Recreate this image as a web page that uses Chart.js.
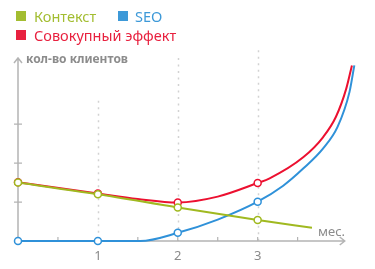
<!DOCTYPE html>
<html>
<head>
<meta charset="utf-8">
<script src="https://cdn.jsdelivr.net/npm/chart.js@4.4.1/dist/chart.umd.min.js"></script>
<style>
    body { margin: 0; background: #fff; font-family: "Noto Sans", sans-serif; }
    #wrap { position: relative; width: 375px; height: 269px; }
    canvas { position: absolute; left: 0; top: 0; }
    .sq { position: absolute; width: 10px; height: 10px; }
    .txt { position: absolute; white-space: nowrap; font-size: 14.5px; line-height: 20px; }
    .axis-title { position: absolute; white-space: nowrap; color: #8c8c8c; font-size: 12px; line-height: 14px; }
</style>
</head>
<body>
<div id="wrap">
    <canvas id="chart" width="375" height="269"></canvas>
    <div class="sq" style="left:16px;top:11px;background:#a3bd31"></div>
    <div class="txt" style="left:34px;top:6px;color:#a3bd31">Контекст</div>
    <div class="sq" style="left:118px;top:11px;background:#3d99d8"></div>
    <div class="txt" style="left:135px;top:6px;color:#3d99d8">SEO</div>
    <div class="sq" style="left:16px;top:30px;background:#e8213f"></div>
    <div class="txt" style="left:34px;top:25px;color:#e8213f">Совокупный эффект</div>
    <div class="axis-title" style="left:26px;top:52px;font-weight:bold">кол-во клиентов</div>
    <div class="axis-title" style="left:318px;top:224px;font-size:13px">мес.</div>
</div>
<script>
// значения (месяцы / условные единицы клиентов)
const xTicks = [1, 2, 3];
const yTicks = [1, 2, 3];
const markerX = [0, 1, 2, 3];
const gridTop = [3.6, 4.7, 4.9];

const kontekstX = [0, 1, 2, 3, 3.68];
const kontekstY = [1.5, 1.2, 0.86, 0.54, 0.34];

const seoX = [0, 1, 1.53, 2, 2.5, 3, 3.32, 3.57, 3.82, 4.0, 4.15, 4.21];
const seoY = [0, 0, 0, 0.21, 0.55, 1.01, 1.42, 1.86, 2.38, 2.93, 3.83, 4.51];

const totalX = [0, 1, 1.5, 2, 2.5, 3, 3.15, 3.57, 3.82, 3.98, 4.11, 4.18];
const totalY = [1.51, 1.22, 1.08, 0.99, 1.14, 1.49, 1.61, 2.15, 2.67, 3.19, 3.92, 4.51];

function toPoints(xs, ys) {
    return xs.map((x, i) => ({ x: x, y: ys[i] }));
}

function makeDataset(label, xs, ys, color) {
    return {
        label: label,
        data: toPoints(xs, ys),
        borderColor: color,
        borderWidth: 2,
        backgroundColor: '#fff',
        pointBackgroundColor: '#fff',
        pointBorderColor: color,
        pointBorderWidth: 1.5,
        pointRadius: (c) => markerX.includes(c.raw.x) ? 3.5 : 0,
        cubicInterpolationMode: 'monotone',
        clip: false
    };
}

// оси со стрелками, пунктирные линии и подписи месяцев
const axesPlugin = {
    id: 'axesPlugin',
    beforeDatasetsDraw(chart) {
        const ctx = chart.ctx;
        const xs = chart.scales.x;
        const ys = chart.scales.y;
        const x0 = xs.getPixelForValue(0);
        const y0 = ys.getPixelForValue(0);

        ctx.save();
        // пунктир
        ctx.strokeStyle = '#d2d2d2';
        ctx.lineWidth = 1.5;
        ctx.setLineDash([2, 4.5]);
        xTicks.forEach((v, i) => {
            const px = Math.round(xs.getPixelForValue(v)) + 0.5;
            ctx.beginPath();
            ctx.moveTo(px, ys.getPixelForValue(gridTop[i]));
            ctx.lineTo(px, y0);
            ctx.stroke();
        });
        ctx.setLineDash([]);

        ctx.strokeStyle = '#b4b4b4';
        ctx.lineWidth = 1.5;
        const yTop = ys.getPixelForValue(4.7);
        const xEnd = xs.getPixelForValue(4.09);
        ctx.beginPath();
        ctx.moveTo(x0, y0);
        ctx.lineTo(x0, yTop);
        ctx.moveTo(x0 - 4, yTop + 5);
        ctx.lineTo(x0, yTop);
        ctx.lineTo(x0 + 4, yTop + 5);
        ctx.moveTo(x0, y0);
        ctx.lineTo(xEnd, y0);
        ctx.moveTo(xEnd - 5, y0 - 4);
        ctx.lineTo(xEnd, y0);
        ctx.lineTo(xEnd - 5, y0 + 4);
        ctx.stroke();

        ctx.lineWidth = 1.2;
        ctx.beginPath();
        yTicks.forEach(v => {
            const py = ys.getPixelForValue(v);
            ctx.moveTo(x0 - 4, py);
            ctx.lineTo(x0 + 4, py);
        });
        [0.5, 1, 1.5, 2, 2.5, 3, 3.5].forEach(v => {
            const px = xs.getPixelForValue(v);
            ctx.moveTo(px, y0);
            ctx.lineTo(px, y0 - 4);
        });
        ctx.stroke();

        ctx.fillStyle = '#8a8a8a';
        ctx.font = '13px "Noto Sans"';
        ctx.textAlign = 'center';
        ctx.textBaseline = 'middle';
        xTicks.forEach(v => {
            ctx.fillText(String(v), xs.getPixelForValue(v), y0 + 15);
        });
        ctx.restore();
    }
};

new Chart(document.getElementById('chart'), {
    type: 'line',
    data: {
        datasets: [
            makeDataset('Контекст', kontekstX, kontekstY, '#a0b920'),
            makeDataset('SEO', seoX, seoY, '#2f91d9'),
            makeDataset('Совокупный эффект', totalX, totalY, '#ec1030')
        ]
    },
    options: {
        responsive: false,
        animation: false,
        layout: { padding: { left: 18, right: 5, top: 58, bottom: 28 } },
        plugins: { legend: { display: false }, tooltip: { enabled: false } },
        scales: {
            x: { type: 'linear', min: 0, max: 4.4, display: false },
            y: { type: 'linear', min: 0, max: 4.7, display: false }
        }
    },
    plugins: [axesPlugin]
});
</script>
</body>
</html>
